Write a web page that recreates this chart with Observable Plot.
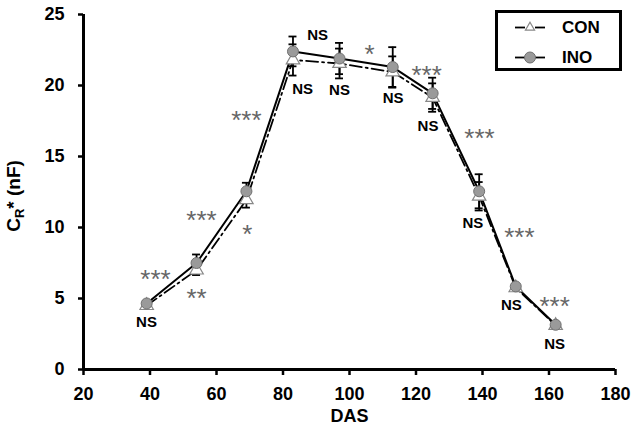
<!DOCTYPE html>
<html><head><meta charset="utf-8">
<script src="https://cdn.jsdelivr.net/npm/d3@7"></script>
<script src="https://cdn.jsdelivr.net/npm/@observablehq/plot@0.6"></script>
<style>
body{margin:0;background:#fff;}
#chart{position:relative;width:638px;height:435px;}
</style>
</head><body><div id="chart"></div>
<script>
// Days after sowing
const das = [39, 54, 69, 83, 97, 113, 125, 139, 150, 162];
// INO series (mean, error)
const ino = [4.65, 7.5, 12.55, 22.4, 21.9, 21.3, 19.45, 12.55, 5.85, 3.15];
const inoErr = [0.15, 0.6, 0.6, 1.05, 1.1, 1.4, 1.1, 1.2, 0.15, 0.15];
// CON series (mean, error)
const con = [4.5, 7.0, 11.95, 21.8, 21.55, 20.95, 19.15, 12.2, 5.75, 3.1];
const conErr = [0.15, 0.35, 0.55, 1.1, 1.05, 1.1, 1.0, 1.0, 0.15, 0.15];
// Axis ticks
const xTicks = [20, 40, 60, 80, 100, 120, 140, 160, 180];
const yTicks = [0, 5, 10, 15, 20, 25];
// Significance labels under each sampling date (anchor in data units)
const pointLabels = ["NS", "**", "*", "NS", "NS", "NS", "NS", "NS", "NS", "NS"];
const pointLabelX = [38.95, 54.0, 69.3, 85.9, 97.0, 113.1, 123.6, 137.1, 148.7, 161.7];
const pointLabelY = [3.31, 5.49, 10.0, 19.72, 19.65, 19.08, 17.11, 10.28, 4.51, 1.76];
// Significance labels between sampling dates
const intervalLabels = ["***", "***", "***", "NS", "*", "***", "***", "***", "***"];
const intervalLabelX = [41.65, 55.5, 69.0, 90.4, 106.0, 123.2, 139.1, 151.1, 161.7];
const intervalLabelY = [6.83, 10.99, 18.03, 23.52, 22.68, 21.2, 16.76, 9.79, 4.93];
// Legend
const seriesNames = ["CON", "INO"];

const rows = das.map((d, i) => ({das: d, ino: ino[i], inoErr: inoErr[i], con: con[i], conErr: conErr[i]}));
const labels = pointLabels.map((t, i) => ({t, x: pointLabelX[i], y: pointLabelY[i]}))
  .concat(intervalLabels.map((t, i) => ({t, x: intervalLabelX[i], y: intervalLabelY[i]})));
const isStar = d => d.t.includes("*");
const cap = 1.2;

function errMarks(key, errKey) {
  return [
    Plot.ruleX(rows, {x: "das", y1: d => d[key] - d[errKey], y2: d => d[key] + d[errKey], stroke: "black", strokeWidth: 1.8}),
    Plot.ruleY(rows, {y: d => d[key] - d[errKey], x1: d => d.das - cap, x2: d => d.das + cap, stroke: "black", strokeWidth: 1.8}),
    Plot.ruleY(rows, {y: d => d[key] + d[errKey], x1: d => d.das - cap, x2: d => d.das + cap, stroke: "black", strokeWidth: 1.8})
  ];
}

const plot = Plot.plot({
  width: 638,
  height: 435,
  marginLeft: 83,
  marginRight: 23,
  marginTop: 14,
  marginBottom: 66,
  style: {fontFamily: "'Liberation Sans', Arial, sans-serif", fontWeight: "bold", fontSize: "18px", background: "white", color: "black"},
  x: {domain: [20, 180]},
  y: {domain: [0, 25]},
  marks: [
    Plot.axisX({ticks: xTicks, tickSize: 6, tickPadding: 12, label: null, fontSize: 18, fontWeight: "bold", strokeWidth: 2.5}),
    Plot.axisY({ticks: yTicks, tickSize: 5, tickPadding: 14, label: null, fontSize: 18, fontWeight: "bold", strokeWidth: 2.5}),
    Plot.ruleY([0], {stroke: "black", strokeWidth: 3}),
    Plot.ruleX([20], {stroke: "black", strokeWidth: 3}),
    Plot.line(rows, {x: "das", y: "con", stroke: "black", strokeWidth: 1.8, strokeDasharray: "12,4,2,4"}),
    Plot.line(rows, {x: "das", y: "ino", stroke: "black", strokeWidth: 2}),
    ...errMarks("con", "conErr"),
    ...errMarks("ino", "inoErr"),
    Plot.dot(rows, {x: "das", y: "con", symbol: "triangle", r: 5, fill: "white", stroke: "#888", strokeWidth: 1.2}),
    Plot.dot(rows, {x: "das", y: "ino", r: 5.5, fill: "#9a9a9a", stroke: "#707070", strokeWidth: 1}),
    Plot.text(labels.filter(d => !isStar(d)), {x: "x", y: "y", text: "t", fontSize: 15, fontWeight: "bold", fill: "black"}),
    Plot.text(labels.filter(isStar), {x: "x", y: "y", text: "t", fontSize: 26, fontWeight: "normal", fill: "#666", dy: 7}),
    Plot.text(["DAS"], {frameAnchor: "bottom", text: d => d, dy: 52, fontSize: 18, fontWeight: "bold"}),
    Plot.text(["C"], {frameAnchor: "left", textAnchor: "middle", text: d => d, dx: -70, dy: 4, rotate: -90, fontSize: 19, fontWeight: "bold", className: "ylab"})
  ]
});

document.getElementById("chart").appendChild(plot);

// Y-axis title with subscript
const svg = d3.select(plot);
const yl = svg.select(".ylab text");
yl.text("C");
yl.append("tspan").attr("font-size", 13).attr("dy", 4).text("R");
yl.append("tspan").attr("dy", -4).text("*");
yl.append("tspan").text(" (nF)");

// Legend
const lg = svg.append("g").attr("text-anchor", "start");
lg.append("rect").attr("x", 496.5).attr("y", 11.5).attr("width", 124).attr("height", 58)
  .attr("fill", "white").attr("stroke", "black").attr("stroke-width", 3);
const ly = [27.5, 57.5];
lg.append("line").attr("x1", 515).attr("x2", 525).attr("y1", ly[0]).attr("y2", ly[0]).attr("stroke", "black").attr("stroke-width", 1.8);
lg.append("line").attr("x1", 535).attr("x2", 545).attr("y1", ly[0]).attr("y2", ly[0]).attr("stroke", "black").attr("stroke-width", 1.8);
lg.append("path").attr("d", d3.symbol(d3.symbolTriangle2, 60)()).attr("transform", `translate(530,${ly[0]})`)
  .attr("fill", "white").attr("stroke", "#888").attr("stroke-width", 1.2);
lg.append("line").attr("x1", 515).attr("x2", 545).attr("y1", ly[1]).attr("y2", ly[1]).attr("stroke", "black").attr("stroke-width", 1.8);
lg.append("circle").attr("cx", 530).attr("cy", ly[1]).attr("r", 5.5).attr("fill", "#9a9a9a").attr("stroke", "#707070");
lg.selectAll("text.lt").data(seriesNames).join("text").attr("class", "lt")
  .attr("x", 562).attr("y", (d, i) => ly[i]).attr("dy", "0.35em").attr("text-anchor", "start")
  .attr("font-size", 17).attr("font-weight", "bold").attr("fill", "black").text(d => d);
</script>
</body></html>
